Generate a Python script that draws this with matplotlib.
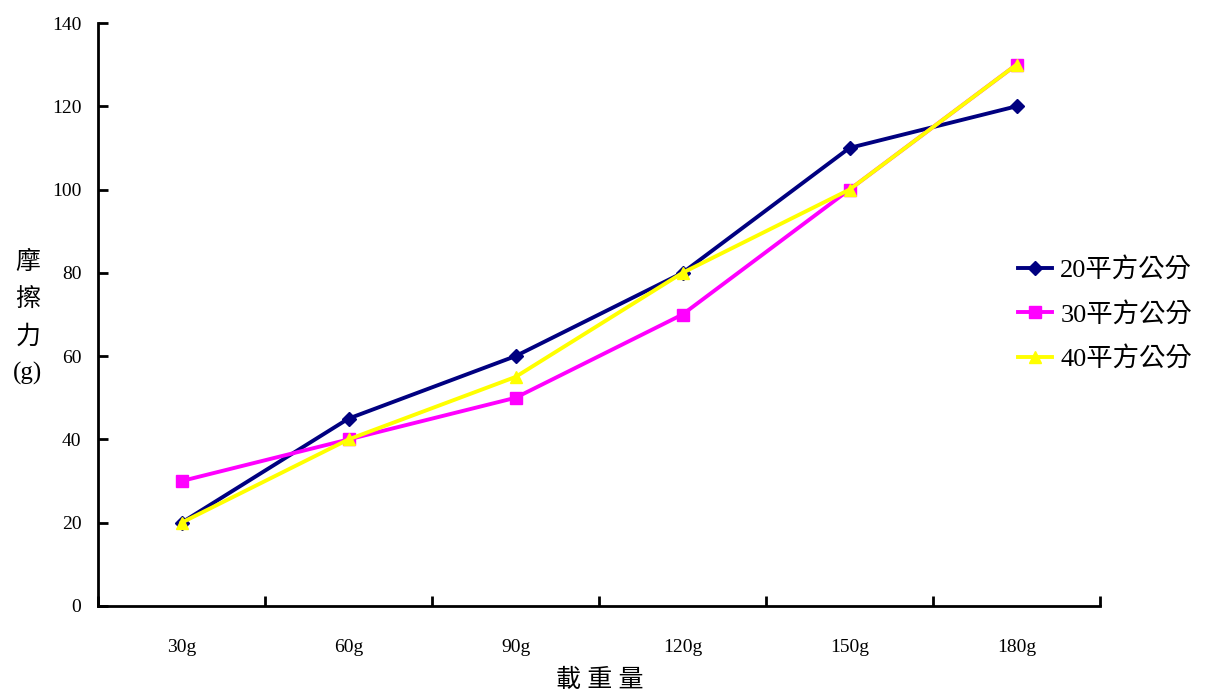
import matplotlib
matplotlib.use("Agg")
import matplotlib.pyplot as plt
from matplotlib.ticker import FixedLocator, NullFormatter, FixedFormatter

# Friction measured for each load, one series per contact area
loads = ["30g", "60g", "90g", "120g", "150g", "180g"]
area_labels = ["20平方公分", "30平方公分", "40平方公分"]
friction_20 = [20, 45, 60, 80, 110, 120]
friction_30 = [30, 40, 50, 70, 100, 130]
friction_40 = [20, 40, 55, 80, 100, 130]
y_ticks = [0, 20, 40, 60, 80, 100, 120, 140]

fam = ["Liberation Serif", "Noto Sans CJK TC"]
plt.rcParams["font.family"] = fam

fig = plt.figure(figsize=(12.19, 6.93), dpi=100)
ax = fig.add_axes([98 / 1219, 1 - 606 / 693, (1100 - 98) / 1219, (606 - 23) / 693])

x = list(range(len(loads)))
ax.plot(x, friction_20, color="#000080", lw=2.8, marker="D", ms=7, label=area_labels[0], zorder=3)
ax.plot(x, friction_30, color="#FF00FF", lw=2.8, marker="s", ms=8, label=area_labels[1], zorder=4)
ax.plot(x, friction_40, color="#FFFF00", lw=2.8, marker="^", ms=9, label=area_labels[2], zorder=5)

ax.set_xlim(-0.5, len(loads) - 0.5)
ax.set_ylim(0, 140)

for s in ("top", "right"):
    ax.spines[s].set_visible(False)
for s in ("left", "bottom"):
    ax.spines[s].set_linewidth(2)

ax.yaxis.set_major_locator(FixedLocator(y_ticks))
ax.tick_params(axis="y", direction="in", length=7, width=2, pad=12, labelsize=14)

# Category boundaries carry the tick marks; labels sit at category centres
ax.xaxis.set_major_locator(FixedLocator([i - 0.5 for i in range(len(loads) + 1)]))
ax.xaxis.set_major_formatter(NullFormatter())
ax.xaxis.set_minor_locator(FixedLocator(x))
ax.xaxis.set_minor_formatter(FixedFormatter(loads))
ax.tick_params(axis="x", which="major", direction="in", length=7, width=2)
ax.tick_params(axis="x", which="minor", length=0, pad=24, labelsize=14)

fig.text(28 / 1219, 1 - 318 / 693, "摩\n擦\n力\n(g)", ha="center", va="center",
         fontsize=18, linespacing=1.75, family=fam)
fig.text(600 / 1219, 1 - 680 / 693, "載 重 量", ha="center", va="center",
         fontsize=18, family=fam)

leg = ax.legend(loc="center left", bbox_to_anchor=(1018 / 1219, 1 - 314 / 693),
                bbox_transform=fig.transFigure, frameon=False,
                borderpad=0, borderaxespad=0,
                handlelength=1.3, handletextpad=0.3, labelspacing=0.75,
                prop={"family": fam, "size": 19})

fig.savefig("out.png", dpi=100, facecolor="white")
